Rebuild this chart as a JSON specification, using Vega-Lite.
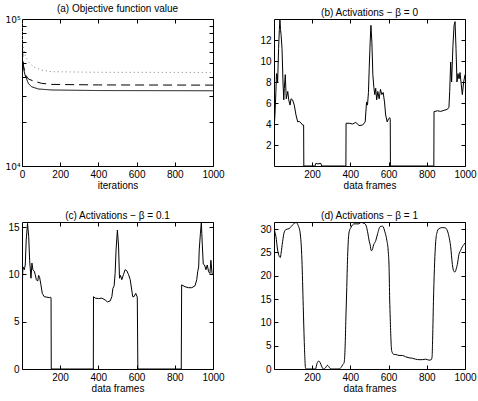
{
  "$schema": "https://vega.github.io/schema/vega-lite/v6.json",
  "padding": {"left": 4, "top": 3, "right": 0, "bottom": 0},
  "background": "white",
  "config": {
    "view": {"stroke": "black", "strokeWidth": 1},
    "axis": {
      "domain": false,
      "grid": false,
      "tickColor": "black",
      "tickSize": -4,
      "labelFont": "Liberation Sans",
      "labelFontSize": 10,
      "labelColor": "black",
      "labelPadding": 7,
      "labelFlush": false,
      "format": "d",
      "titleFont": "Liberation Sans",
      "titleFontSize": 10,
      "titleFontWeight": "normal",
      "titleColor": "black",
      "titlePadding": 1
    },
    "title": {"font": "Liberation Sans", "fontSize": 10, "fontWeight": "normal", "color": "black", "offset": 1, "anchor": "middle", "frame": "group"}
  },
  "datasets": {
    "obj": [
      {"iter": 0, "value": 98000, "run": "solid"},
      {"iter": 3, "value": 52000, "run": "solid"},
      {"iter": 8, "value": 46000, "run": "solid"},
      {"iter": 16, "value": 41600, "run": "solid"},
      {"iter": 33, "value": 36500, "run": "solid"},
      {"iter": 50, "value": 34600, "run": "solid"},
      {"iter": 86, "value": 33400, "run": "solid"},
      {"iter": 155, "value": 32900, "run": "solid"},
      {"iter": 400, "value": 32600, "run": "solid"},
      {"iter": 1000, "value": 32500, "run": "solid"},
      {"iter": 0, "value": 99000, "run": "dashed"},
      {"iter": 3, "value": 60000, "run": "dashed"},
      {"iter": 7, "value": 48600, "run": "dashed"},
      {"iter": 19, "value": 41600, "run": "dashed"},
      {"iter": 33, "value": 39100, "run": "dashed"},
      {"iter": 59, "value": 37900, "run": "dashed"},
      {"iter": 103, "value": 36500, "run": "dashed"},
      {"iter": 155, "value": 35900, "run": "dashed"},
      {"iter": 400, "value": 35600, "run": "dashed"},
      {"iter": 1000, "value": 35500, "run": "dashed"},
      {"iter": 0, "value": 100000, "run": "dotted"},
      {"iter": 3, "value": 72000, "run": "dotted"},
      {"iter": 7, "value": 63100, "run": "dotted"},
      {"iter": 16, "value": 56900, "run": "dotted"},
      {"iter": 33, "value": 51300, "run": "dotted"},
      {"iter": 59, "value": 47300, "run": "dotted"},
      {"iter": 103, "value": 45000, "run": "dotted"},
      {"iter": 155, "value": 43800, "run": "dotted"},
      {"iter": 400, "value": 43400, "run": "dotted"},
      {"iter": 1000, "value": 43300, "run": "dotted"}
    ],
    "b": [
      {"frame": 1, "act": 5.0}, {"frame": 4, "act": 4.3}, {"frame": 6, "act": 4.9}, {"frame": 11, "act": 7.1},
      {"frame": 14, "act": 8.8}, {"frame": 17, "act": 8.7}, {"frame": 20, "act": 8.0}, {"frame": 25, "act": 11.2},
      {"frame": 29, "act": 13.0}, {"frame": 32, "act": 13.9}, {"frame": 35, "act": 13.0}, {"frame": 38, "act": 12.5},
      {"frame": 43, "act": 11.2}, {"frame": 48, "act": 8.0}, {"frame": 52, "act": 6.3}, {"frame": 55, "act": 7.4},
      {"frame": 60, "act": 8.7}, {"frame": 65, "act": 6.4}, {"frame": 73, "act": 7.1}, {"frame": 78, "act": 6.3},
      {"frame": 85, "act": 5.8}, {"frame": 90, "act": 6.4}, {"frame": 98, "act": 6.3}, {"frame": 107, "act": 5.8},
      {"frame": 116, "act": 4.86}, {"frame": 125, "act": 4.2}, {"frame": 133, "act": 4.25}, {"frame": 142, "act": 4.1},
      {"frame": 151, "act": 3.9}, {"frame": 156, "act": 3.9}, {"frame": 157, "act": 0}, {"frame": 215, "act": 0},
      {"frame": 220, "act": 0.25}, {"frame": 230, "act": 0.2}, {"frame": 246, "act": 0.25}, {"frame": 250, "act": 0},
      {"frame": 377, "act": 0}, {"frame": 378, "act": 4.07}, {"frame": 394, "act": 4.07}, {"frame": 412, "act": 4.0},
      {"frame": 429, "act": 4.15}, {"frame": 446, "act": 3.85}, {"frame": 464, "act": 3.9}, {"frame": 478, "act": 4.2},
      {"frame": 485, "act": 6.1}, {"frame": 490, "act": 5.8}, {"frame": 495, "act": 7.0}, {"frame": 499, "act": 9.3},
      {"frame": 504, "act": 11.8}, {"frame": 508, "act": 13.4}, {"frame": 513, "act": 11.8}, {"frame": 518, "act": 8.7},
      {"frame": 523, "act": 7.55}, {"frame": 528, "act": 6.8}, {"frame": 533, "act": 7.4}, {"frame": 538, "act": 6.3},
      {"frame": 544, "act": 7.1}, {"frame": 551, "act": 6.4}, {"frame": 558, "act": 7.3}, {"frame": 565, "act": 6.8},
      {"frame": 572, "act": 7.0}, {"frame": 579, "act": 6.1}, {"frame": 585, "act": 4.86}, {"frame": 593, "act": 4.2},
      {"frame": 600, "act": 4.5}, {"frame": 607, "act": 4.6}, {"frame": 609, "act": 4.4}, {"frame": 610, "act": 0},
      {"frame": 837, "act": 0}, {"frame": 838, "act": 5.17}, {"frame": 856, "act": 5.26}, {"frame": 873, "act": 5.2},
      {"frame": 890, "act": 5.3}, {"frame": 908, "act": 5.4}, {"frame": 916, "act": 5.6}, {"frame": 920, "act": 7.1},
      {"frame": 925, "act": 9.9}, {"frame": 930, "act": 8.0}, {"frame": 937, "act": 11.5}, {"frame": 943, "act": 13.4},
      {"frame": 948, "act": 13.75}, {"frame": 953, "act": 11.2}, {"frame": 958, "act": 8.0}, {"frame": 963, "act": 8.8},
      {"frame": 969, "act": 8.3}, {"frame": 974, "act": 8.9}, {"frame": 979, "act": 8.0}, {"frame": 986, "act": 6.8},
      {"frame": 993, "act": 8.0}, {"frame": 1000, "act": 8.7}
    ],
    "c": [
      {"frame": 1, "act": 8.0}, {"frame": 6, "act": 10.8}, {"frame": 13, "act": 10.5}, {"frame": 18, "act": 11.0},
      {"frame": 23, "act": 13.65}, {"frame": 30, "act": 15.4}, {"frame": 36, "act": 14.0}, {"frame": 41, "act": 11.5},
      {"frame": 48, "act": 9.6}, {"frame": 53, "act": 11.2}, {"frame": 58, "act": 10.5}, {"frame": 65, "act": 10.35},
      {"frame": 70, "act": 10.0}, {"frame": 76, "act": 9.45}, {"frame": 83, "act": 9.3}, {"frame": 88, "act": 9.9},
      {"frame": 93, "act": 9.7}, {"frame": 100, "act": 8.9}, {"frame": 107, "act": 8.0}, {"frame": 117, "act": 7.65},
      {"frame": 131, "act": 7.6}, {"frame": 144, "act": 7.55}, {"frame": 150, "act": 7.6}, {"frame": 153, "act": 7.5},
      {"frame": 154, "act": 0}, {"frame": 374, "act": 0}, {"frame": 375, "act": 7.65}, {"frame": 384, "act": 7.5},
      {"frame": 401, "act": 7.45}, {"frame": 419, "act": 7.5}, {"frame": 436, "act": 7.3}, {"frame": 448, "act": 7.1},
      {"frame": 462, "act": 7.2}, {"frame": 471, "act": 7.65}, {"frame": 476, "act": 8.5}, {"frame": 483, "act": 8.8},
      {"frame": 488, "act": 10.1}, {"frame": 493, "act": 12.6}, {"frame": 500, "act": 14.7}, {"frame": 506, "act": 13.0},
      {"frame": 511, "act": 9.6}, {"frame": 516, "act": 9.9}, {"frame": 523, "act": 9.45}, {"frame": 532, "act": 10.0},
      {"frame": 540, "act": 10.5}, {"frame": 549, "act": 10.4}, {"frame": 558, "act": 10.0}, {"frame": 567, "act": 9.45},
      {"frame": 575, "act": 8.36}, {"frame": 580, "act": 7.65}, {"frame": 587, "act": 7.65}, {"frame": 596, "act": 8.0},
      {"frame": 604, "act": 7.6}, {"frame": 607, "act": 0}, {"frame": 834, "act": 0}, {"frame": 836, "act": 8.9},
      {"frame": 854, "act": 8.7}, {"frame": 871, "act": 8.6}, {"frame": 889, "act": 8.6}, {"frame": 906, "act": 8.8},
      {"frame": 915, "act": 9.45}, {"frame": 920, "act": 10.3}, {"frame": 925, "act": 10.8}, {"frame": 928, "act": 12.6},
      {"frame": 934, "act": 14.3}, {"frame": 939, "act": 15.5}, {"frame": 944, "act": 13.2}, {"frame": 949, "act": 11.1},
      {"frame": 956, "act": 11.0}, {"frame": 963, "act": 10.5}, {"frame": 970, "act": 11.0}, {"frame": 977, "act": 10.3},
      {"frame": 984, "act": 10.1}, {"frame": 989, "act": 11.5}, {"frame": 995, "act": 10.1}, {"frame": 1000, "act": 10.0}
    ],
    "d": [
      {"frame": 1, "act": 30.2}, {"frame": 5, "act": 29.5}, {"frame": 11, "act": 28.4}, {"frame": 20, "act": 25.5},
      {"frame": 29, "act": 24.1}, {"frame": 34, "act": 23.9}, {"frame": 38, "act": 24.8}, {"frame": 46, "act": 27.3},
      {"frame": 55, "act": 29.4}, {"frame": 64, "act": 29.9}, {"frame": 81, "act": 30.1}, {"frame": 90, "act": 30.5},
      {"frame": 104, "act": 31.1}, {"frame": 116, "act": 31.4}, {"frame": 128, "act": 30.7}, {"frame": 138, "act": 29.1},
      {"frame": 147, "act": 23.4}, {"frame": 154, "act": 13.4}, {"frame": 159, "act": 6.2}, {"frame": 166, "act": 0.2},
      {"frame": 170, "act": 0}, {"frame": 218, "act": 0}, {"frame": 226, "act": 1.2}, {"frame": 235, "act": 1.7},
      {"frame": 242, "act": 1.4}, {"frame": 250, "act": 0.6}, {"frame": 259, "act": 0}, {"frame": 266, "act": 0.1},
      {"frame": 273, "act": 0.4}, {"frame": 280, "act": 0.8}, {"frame": 286, "act": 0.6}, {"frame": 295, "act": 0.1},
      {"frame": 307, "act": 0}, {"frame": 342, "act": 0}, {"frame": 351, "act": 0.3}, {"frame": 360, "act": 0.9},
      {"frame": 368, "act": 1.4}, {"frame": 373, "act": 4.8}, {"frame": 377, "act": 10.9}, {"frame": 381, "act": 16.5},
      {"frame": 386, "act": 24.1}, {"frame": 394, "act": 29.4}, {"frame": 403, "act": 30.3}, {"frame": 412, "act": 30.9},
      {"frame": 420, "act": 31.1}, {"frame": 446, "act": 31.1}, {"frame": 455, "act": 31.4}, {"frame": 473, "act": 31.2},
      {"frame": 481, "act": 30.9}, {"frame": 490, "act": 29.5}, {"frame": 499, "act": 27.4}, {"frame": 504, "act": 26.6},
      {"frame": 509, "act": 25.4}, {"frame": 513, "act": 25.4}, {"frame": 522, "act": 26.6}, {"frame": 534, "act": 27.6},
      {"frame": 543, "act": 29.0}, {"frame": 556, "act": 30.5}, {"frame": 569, "act": 30.6}, {"frame": 581, "act": 29.4},
      {"frame": 591, "act": 27.6}, {"frame": 598, "act": 25.5}, {"frame": 603, "act": 21.6}, {"frame": 606, "act": 15.0},
      {"frame": 609, "act": 10.9}, {"frame": 613, "act": 6.0}, {"frame": 617, "act": 3.8}, {"frame": 629, "act": 3.1},
      {"frame": 638, "act": 3.1}, {"frame": 655, "act": 2.9}, {"frame": 673, "act": 2.9}, {"frame": 690, "act": 2.6},
      {"frame": 708, "act": 2.4}, {"frame": 725, "act": 2.3}, {"frame": 742, "act": 2.1}, {"frame": 760, "act": 2.0},
      {"frame": 777, "act": 2.0}, {"frame": 795, "act": 2.1}, {"frame": 812, "act": 1.9}, {"frame": 824, "act": 2.0},
      {"frame": 828, "act": 2.7}, {"frame": 830, "act": 5.2}, {"frame": 835, "act": 14.5}, {"frame": 840, "act": 21.5},
      {"frame": 845, "act": 26.2}, {"frame": 852, "act": 29.0}, {"frame": 864, "act": 30.1}, {"frame": 882, "act": 30.3},
      {"frame": 899, "act": 30.2}, {"frame": 908, "act": 29.6}, {"frame": 916, "act": 28.4}, {"frame": 925, "act": 26.2},
      {"frame": 934, "act": 22.4}, {"frame": 942, "act": 20.9}, {"frame": 948, "act": 20.8}, {"frame": 955, "act": 21.6},
      {"frame": 960, "act": 22.4}, {"frame": 968, "act": 24.5}, {"frame": 977, "act": 25.4}, {"frame": 986, "act": 26.2},
      {"frame": 995, "act": 26.7}, {"frame": 1000, "act": 27.0}
    ]
  },
  "bounds": "flush",
  "columns": 2,
  "spacing": {"row": 56, "column": 61},
  "concat": [
    {
      "title": "(a) Objective function value",
      "width": 191,
      "height": 147,
      "data": {"name": "obj"},
      "layer": [
        {
          "mark": {"type": "line", "strokeWidth": 1, "clip": true},
          "encoding": {
            "x": {"field": "iter", "type": "quantitative", "scale": {"domain": [0, 1000], "nice": false},
                  "axis": {"values": [0, 200, 400, 600, 800, 1000], "title": "iterations"}},
            "y": {"field": "value", "type": "quantitative", "scale": {"type": "log", "domain": [10000, 100000], "nice": false},
                  "axis": {"values": [10000, 20000, 30000, 40000, 50000, 60000, 70000, 80000, 90000, 100000],
                           "labelExpr": "datum.value == 10000 ? '10⁴' : datum.value == 100000 ? '10⁵' : ''",
                           "labelFont": "DejaVu Sans", "labelFontSize": 9, "labelPadding": 6,
                           "title": null}},
            "strokeDash": {"field": "run", "type": "nominal",
                           "scale": {"domain": ["solid", "dashed", "dotted"], "range": [[1, 0], [9, 5], [1, 3]]},
                           "legend": null},
            "color": {"field": "run", "type": "nominal",
                      "scale": {"domain": ["solid", "dashed", "dotted"], "range": ["#000000", "#000000", "#808080"]},
                      "legend": null}
          }
        },
        {
          "mark": {"type": "line", "opacity": 0},
          "encoding": {
            "x": {"field": "iter", "type": "quantitative", "scale": {"domain": [0, 1000], "nice": false},
                  "axis": {"orient": "top", "values": [0, 200, 400, 600, 800, 1000], "labels": false, "title": null}},
            "y": {"field": "value", "type": "quantitative", "scale": {"type": "log", "domain": [10000, 100000], "nice": false},
                  "axis": {"orient": "right", "values": [10000, 20000, 30000, 40000, 50000, 60000, 70000, 80000, 90000, 100000],
                           "labels": false, "title": null}}
          }
        }
      ],
      "resolve": {"axis": {"x": "independent", "y": "independent"}}
    },
    {
      "title": "(b) Activations − β = 0",
      "width": 191,
      "height": 147,
      "data": {"name": "b"},
      "layer": [
        {
          "mark": {"type": "line", "color": "black", "strokeWidth": 1, "clip": true},
          "encoding": {
            "x": {"field": "frame", "type": "quantitative", "scale": {"domain": [1, 1000], "nice": false},
                  "axis": {"values": [200, 400, 600, 800, 1000], "title": "data frames"}},
            "y": {"field": "act", "type": "quantitative", "scale": {"domain": [0, 14], "nice": false},
                  "axis": {"values": [2, 4, 6, 8, 10, 12], "title": null}}
          }
        },
        {
          "mark": {"type": "line", "opacity": 0},
          "encoding": {
            "x": {"field": "frame", "type": "quantitative", "scale": {"domain": [1, 1000], "nice": false},
                  "axis": {"orient": "top", "values": [200, 400, 600, 800, 1000], "labels": false, "title": null}},
            "y": {"field": "act", "type": "quantitative", "scale": {"domain": [0, 14], "nice": false},
                  "axis": {"orient": "right", "values": [2, 4, 6, 8, 10, 12], "labels": false, "title": null}}
          }
        }
      ],
      "resolve": {"axis": {"x": "independent", "y": "independent"}}
    },
    {
      "title": "(c) Activations − β = 0.1",
      "width": 191,
      "height": 147,
      "data": {"name": "c"},
      "layer": [
        {
          "mark": {"type": "line", "color": "black", "strokeWidth": 1, "clip": true},
          "encoding": {
            "x": {"field": "frame", "type": "quantitative", "scale": {"domain": [1, 1000], "nice": false},
                  "axis": {"values": [200, 400, 600, 800, 1000], "title": "data frames"}},
            "y": {"field": "act", "type": "quantitative", "scale": {"domain": [0, 15.55], "nice": false},
                  "axis": {"values": [0, 5, 10, 15], "title": null}}
          }
        },
        {
          "mark": {"type": "line", "opacity": 0},
          "encoding": {
            "x": {"field": "frame", "type": "quantitative", "scale": {"domain": [1, 1000], "nice": false},
                  "axis": {"orient": "top", "values": [200, 400, 600, 800, 1000], "labels": false, "title": null}},
            "y": {"field": "act", "type": "quantitative", "scale": {"domain": [0, 15.55], "nice": false},
                  "axis": {"orient": "right", "values": [0, 5, 10, 15], "labels": false, "title": null}}
          }
        }
      ],
      "resolve": {"axis": {"x": "independent", "y": "independent"}}
    },
    {
      "title": "(d) Activations − β = 1",
      "width": 191,
      "height": 147,
      "data": {"name": "d"},
      "layer": [
        {
          "mark": {"type": "line", "color": "black", "strokeWidth": 1, "clip": true, "interpolate": "monotone"},
          "encoding": {
            "x": {"field": "frame", "type": "quantitative", "scale": {"domain": [1, 1000], "nice": false},
                  "axis": {"values": [200, 400, 600, 800, 1000], "title": "data frames"}},
            "y": {"field": "act", "type": "quantitative", "scale": {"domain": [0, 31.5], "nice": false},
                  "axis": {"values": [0, 5, 10, 15, 20, 25, 30], "title": null}}
          }
        },
        {
          "mark": {"type": "line", "opacity": 0},
          "encoding": {
            "x": {"field": "frame", "type": "quantitative", "scale": {"domain": [1, 1000], "nice": false},
                  "axis": {"orient": "top", "values": [200, 400, 600, 800, 1000], "labels": false, "title": null}},
            "y": {"field": "act", "type": "quantitative", "scale": {"domain": [0, 31.5], "nice": false},
                  "axis": {"orient": "right", "values": [0, 5, 10, 15, 20, 25, 30], "labels": false, "title": null}}
          }
        }
      ],
      "resolve": {"axis": {"x": "independent", "y": "independent"}}
    }
  ]
}
